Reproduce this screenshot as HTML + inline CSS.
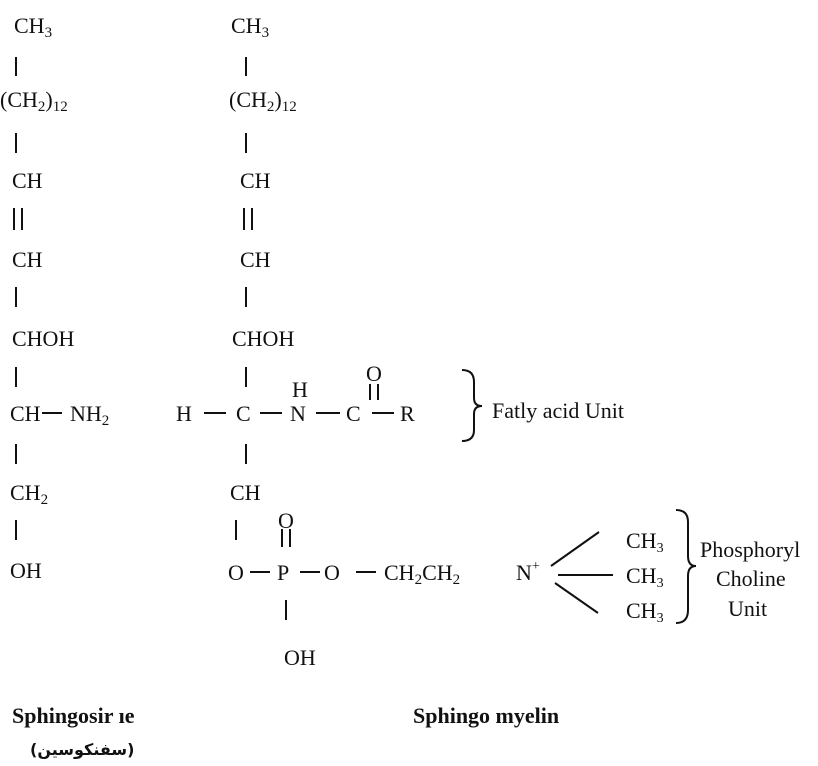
<!DOCTYPE html>
<html><head><meta charset="utf-8"><style>
html,body{margin:0;padding:0;background:#fff;}
svg{display:block;}
text{font-family:"Liberation Serif",serif;font-size:22px;fill:#111;}
.b{font-weight:bold;}
#ar{position:absolute;left:30px;top:740px;font-family:"DejaVu Sans",sans-serif;font-weight:bold;font-size:16px;color:#111;direction:rtl;unicode-bidi:embed;white-space:nowrap;}
</style></head><body>
<svg width="818" height="766" viewBox="0 0 818 766" xmlns="http://www.w3.org/2000/svg">
<g stroke="#111" stroke-width="2" fill="none">
<line x1="16" y1="57" x2="16" y2="76"/>
<line x1="16" y1="133" x2="16" y2="153"/>
<line x1="14" y1="208" x2="14" y2="230"/><line x1="22" y1="208" x2="22" y2="230"/>
<line x1="16" y1="287" x2="16" y2="307"/>
<line x1="16" y1="367" x2="16" y2="387"/>
<line x1="16" y1="444" x2="16" y2="464"/>
<line x1="16" y1="520" x2="16" y2="540"/>
<line x1="246" y1="57" x2="246" y2="76"/>
<line x1="246" y1="133" x2="246" y2="153"/>
<line x1="244" y1="208" x2="244" y2="230"/><line x1="252" y1="208" x2="252" y2="230"/>
<line x1="246" y1="287" x2="246" y2="307"/>
<line x1="246" y1="367" x2="246" y2="387"/>
<line x1="246" y1="444" x2="246" y2="464"/>
<line x1="236" y1="520" x2="236" y2="540"/>
<line x1="42" y1="413" x2="62" y2="413"/>
<line x1="204" y1="413" x2="226" y2="413"/>
<line x1="260" y1="413" x2="282" y2="413"/>
<line x1="316" y1="413" x2="340" y2="413"/>
<line x1="372" y1="413" x2="394" y2="413"/>
<line x1="370" y1="384" x2="370" y2="400"/><line x1="378" y1="384" x2="378" y2="400"/>
<path d="M462 370 Q474 370 474 382 L474 398 Q474 406 482 406 Q474 406 474 414 L474 430 Q474 441 462 441"/>
<line x1="250" y1="572" x2="270" y2="572"/>
<line x1="300" y1="572" x2="320" y2="572"/>
<line x1="356" y1="572" x2="376" y2="572"/>
<line x1="282" y1="529" x2="282" y2="547"/><line x1="290" y1="529" x2="290" y2="547"/>
<line x1="286" y1="600" x2="286" y2="620"/>
<line x1="551" y1="566" x2="599" y2="532"/>
<line x1="558" y1="575" x2="613" y2="575"/>
<line x1="555" y1="583" x2="598" y2="613"/>
<path d="M676 510 Q688 510 688 522 L688 556 Q688 566 696 566 Q688 566 688 576 L688 610 Q688 623 676 623"/>
</g>
<text x="14" y="33">CH<tspan font-size="15" dy="4">3</tspan></text>
<text x="0" y="107">(CH<tspan font-size="15" dy="4">2</tspan><tspan dy="-4">)</tspan><tspan font-size="15" dy="4">12</tspan></text>
<text x="12" y="188">CH</text>
<text x="12" y="267">CH</text>
<text x="12" y="346">CHOH</text>
<text x="10" y="421">CH</text>
<text x="70" y="421">NH<tspan font-size="15" dy="4">2</tspan></text>
<text x="10" y="500">CH<tspan font-size="15" dy="4">2</tspan></text>
<text x="10" y="578">OH</text>
<text x="231" y="33">CH<tspan font-size="15" dy="4">3</tspan></text>
<text x="229" y="107">(CH<tspan font-size="15" dy="4">2</tspan><tspan dy="-4">)</tspan><tspan font-size="15" dy="4">12</tspan></text>
<text x="240" y="188">CH</text>
<text x="240" y="267">CH</text>
<text x="232" y="346">CHOH</text>
<text x="176" y="421">H</text>
<text x="236" y="421">C</text>
<text x="290" y="421">N</text>
<text x="292" y="397" font-size="20">H</text>
<text x="366" y="381" font-size="20">O</text>
<text x="346" y="421">C</text>
<text x="400" y="421">R</text>
<text x="492" y="418" font-size="20">Fatly acid Unit</text>
<text x="230" y="500">CH</text>
<text x="228" y="580">O</text>
<text x="278" y="528" font-size="20">O</text>
<text x="277" y="580">P</text>
<text x="324" y="580">O</text>
<text x="384" y="580">CH<tspan font-size="15" dy="4">2</tspan><tspan dy="-4">CH</tspan><tspan font-size="15" dy="4">2</tspan></text>
<text x="516" y="580">N<tspan font-size="14" dy="-10">+</tspan></text>
<text x="626" y="548" font-size="20">CH<tspan font-size="14" dy="4">3</tspan></text>
<text x="626" y="583" font-size="20">CH<tspan font-size="14" dy="4">3</tspan></text>
<text x="626" y="618" font-size="20">CH<tspan font-size="14" dy="4">3</tspan></text>
<text x="700" y="557" font-size="19">Phosphoryl</text>
<text x="716" y="586" font-size="19">Choline</text>
<text x="728" y="616" font-size="19">Unit</text>
<text x="284" y="665">OH</text>
<text class="b" x="12" y="723">Sphingosir ıe</text>
<text class="b" x="413" y="723">Sphingo myelin</text>
</svg>
<div id="ar">(سفنكوسين)</div>
</body></html>
